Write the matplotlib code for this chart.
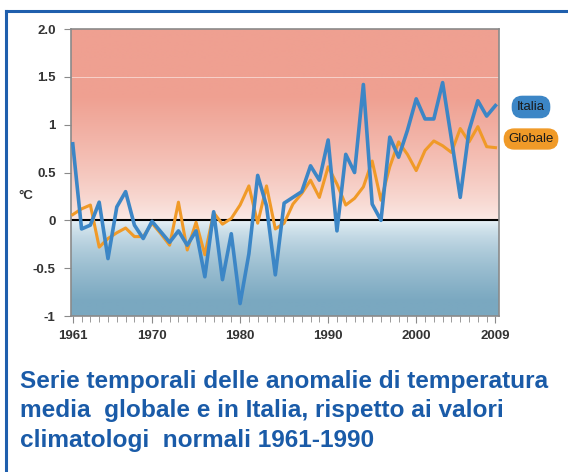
import numpy as np
import matplotlib
matplotlib.use("Agg")
import matplotlib.pyplot as plt
from matplotlib.lines import Line2D

years = list(range(1961, 2010))
italia = [0.80, -0.09, -0.05, 0.19, -0.40, 0.14, 0.30, -0.05, -0.19, -0.01,
          -0.12, -0.23, -0.11, -0.26, -0.11, -0.59, 0.09, -0.62, -0.14, -0.87,
          -0.35, 0.47, 0.15, -0.57, 0.18, 0.24, 0.30, 0.57, 0.42, 0.84,
          -0.11, 0.69, 0.50, 1.42, 0.17, 0.00, 0.87, 0.66, 0.94, 1.27,
          1.06, 1.06, 1.44, 0.85, 0.24, 0.94, 1.25, 1.09, 1.20]
globale = [0.06, 0.12, 0.16, -0.28, -0.19, -0.13, -0.08, -0.17, -0.17, -0.03,
           -0.14, -0.26, 0.19, -0.31, -0.02, -0.36, 0.08, -0.04, 0.02, 0.16,
           0.36, -0.03, 0.36, -0.09, -0.03, 0.17, 0.28, 0.42, 0.24, 0.56,
           0.38, 0.16, 0.23, 0.35, 0.62, 0.21, 0.56, 0.82, 0.69, 0.52,
           0.73, 0.83, 0.78, 0.71, 0.96, 0.82, 0.98, 0.77, 0.76]
xtick_years = [1961, 1970, 1980, 1990, 2000, 2009]
ytick_vals = [-1, -0.5, 0, 0.5, 1, 1.5, 2.0]
ytick_labels = ["-1", "-0.5", "0", "0.5", "1", "1.5", "2.0"]
series_names = ["Italia", "Globale"]
caption = ("Serie temporali delle anomalie di temperatura\n"
           "media  globale e in Italia, rispetto ai valori\n"
           "climatologi  normali 1961-1990")

FAM = ["Liberation Sans", "DejaVu Sans"]

fig = plt.figure(figsize=(5.68, 4.72), dpi=100)
fig.patch.set_facecolor("white")
ax = fig.add_axes([0.125, 0.3305, 0.7535, 0.608])

x0, x1 = 1960.8, 2009.4
y0, y1 = -1.0, 2.0

# gradient background
n = 300
yy = np.linspace(y1, y0, n)
img = np.zeros((n, 1, 3))
red_top = np.array([239, 160, 145]) / 255
red_low = np.array([251, 236, 232]) / 255
blue_top = np.array([240, 247, 251]) / 255
blue_bot = np.array([122, 168, 192]) / 255
for i, v in enumerate(yy):
    if v >= 0:
        t = min(v / 1.3, 1.0) ** 0.75
        c = red_low + (red_top - red_low) * t
    else:
        t = min(-v / 0.85, 1.0) ** 0.6
        c = blue_top + (blue_bot - blue_top) * t
    img[i, 0] = c
ax.imshow(img, extent=[x0, x1, y0, y1], aspect="auto", zorder=0,
          interpolation="bilinear")
ax.axhline(1.5, color="white", lw=0.6, alpha=0.6, zorder=1)
ax.axhline(0, color="black", lw=1.5, zorder=2)

ax.plot(years, globale, color="#F09A28", lw=2.2, zorder=3)
ax.plot(years, italia, color="#3C86C6", lw=2.6, zorder=4)

ax.set_xlim(x0, x1)
ax.set_ylim(y0, y1)
ax.set_xticks(xtick_years)
ax.set_xticks(years, minor=True)
ax.set_xticklabels([str(y) for y in xtick_years])
ax.set_yticks(ytick_vals)
ax.set_yticklabels(ytick_labels)
for s in ax.spines.values():
    s.set_color("#8a8a8a")
    s.set_linewidth(1.2)
ax.tick_params(axis="both", which="both", color="#8a8a8a", labelcolor="#333333",
               labelsize=9.5, direction="out")
ax.tick_params(axis="x", which="major", length=5, pad=5)
ax.tick_params(axis="x", which="minor", length=4)
ax.tick_params(axis="y", length=5, pad=6)
for lab in ax.get_xticklabels() + ax.get_yticklabels():
    lab.set_fontweight("bold")
    lab.set_family(FAM)

fig.text(18 / 568, 1 - 196 / 472, "°C", fontsize=9.5, fontweight="bold",
         color="#333333", ha="left", va="center", family=FAM)

# legend pills
fig.text(531 / 568, 1 - 107 / 472, series_names[0], fontsize=9.5, color="#1a1a1a",
         ha="center", va="center", family=FAM,
         bbox=dict(boxstyle="round,pad=0.35,rounding_size=0.75", fc="#3C86C6",
                   ec="#3C86C6"))
fig.text(531 / 568, 1 - 139 / 472, series_names[1], fontsize=9.5, color="#1a1a1a",
         ha="center", va="center", family=FAM,
         bbox=dict(boxstyle="round,pad=0.3,rounding_size=0.75", fc="#F09A28",
                   ec="#F09A28"))

# frame lines
fig.add_artist(Line2D([6 / 568, 1.0], [1 - 11 / 472, 1 - 11 / 472],
                      color="#1F5FAD", lw=2.2, transform=fig.transFigure))
fig.add_artist(Line2D([6 / 568, 6 / 568], [0, 1 - 11 / 472],
                      color="#1F5FAD", lw=2.2, transform=fig.transFigure))

fig.text(20 / 568, 1 - 370 / 472, caption, fontsize=17.6, fontweight="bold",
         color="#1A5BA8", ha="left", va="top", linespacing=1.36, family=FAM)

fig.savefig("out.png", dpi=100)
